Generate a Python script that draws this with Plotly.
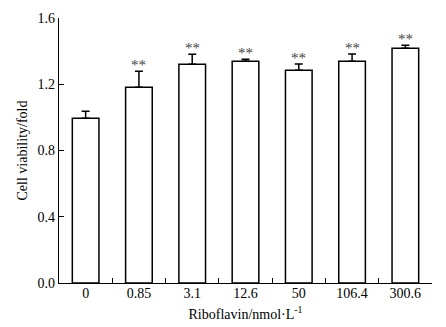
import plotly.graph_objects as go

categories = ["0", "0.85", "3.1", "12.6", "50", "106.4", "300.6"]
viability = [0.995, 1.182, 1.321, 1.339, 1.285, 1.339, 1.417]
sd = [0.042, 0.097, 0.060, 0.012, 0.038, 0.044, 0.018]
signif = ["", "**", "**", "**", "**", "**", "**"]
y_ticks = [0.0, 0.4, 0.8, 1.2, 1.6]

font = "Liberation Serif, Times New Roman, serif"
pos = list(range(len(categories)))
boundaries = [p - 0.5 for p in pos] + [pos[-1] + 0.5]

fig = go.Figure()
fig.add_trace(go.Bar(
    x=pos, y=viability,
    width=0.5,
    marker=dict(color="white", line=dict(color="black", width=1.5)),
    error_y=dict(type="data", array=sd, symmetric=False, arrayminus=[0]*len(sd),
                 color="black", thickness=1.5, width=4),
))
# invisible trace to carry the label axis
fig.add_trace(go.Scatter(x=pos, y=viability, xaxis="x2", mode="markers",
                         marker=dict(opacity=0), hoverinfo="skip", showlegend=False))

for p, v, e, s in zip(pos, viability, sd, signif):
    if s:
        fig.add_annotation(x=p, y=v + e, text=s, showarrow=False,
                           yanchor="bottom", yshift=-4,
                           font=dict(family=font, size=15, color="#444"))

# page body adds an 8px offset; shrink the figure accordingly
fig.update_layout(
    width=438, height=319,
    margin=dict(l=51, r=14, t=10, b=44, autoexpand=False),
    plot_bgcolor="white", paper_bgcolor="white",
    showlegend=False,
    font=dict(family=font, size=14, color="black"),
    xaxis=dict(
        range=[-0.5, 6.5], tickvals=boundaries, ticktext=[""] * len(boundaries),
        showline=True, linecolor="black", linewidth=1.2,
        ticks="inside", ticklen=5, tickcolor="black", tickwidth=1,
        showgrid=False, zeroline=False,
        title=dict(text="Riboflavin/nmol·L<sup>-1</sup>", font=dict(family=font, size=14), standoff=23),
    ),
    xaxis2=dict(
        overlaying="x", side="bottom", matches="x",
        range=[-0.5, 6.5], tickvals=pos, ticktext=categories,
        showline=False, ticks="", showgrid=False, zeroline=False,
        tickfont=dict(family=font, size=14),
    ),
)
fig.update_yaxes(
    range=[0, 1.6], tickvals=y_ticks, tickformat=".1f",
    showline=True, linecolor="black", linewidth=1.2,
    ticks="inside", ticklen=5, tickcolor="black",
    showgrid=False, zeroline=False,
    tickfont=dict(family=font, size=14),
    title=dict(text="Cell viability/fold", font=dict(family=font, size=14), standoff=6),
)

fig.write_html("out.html")
